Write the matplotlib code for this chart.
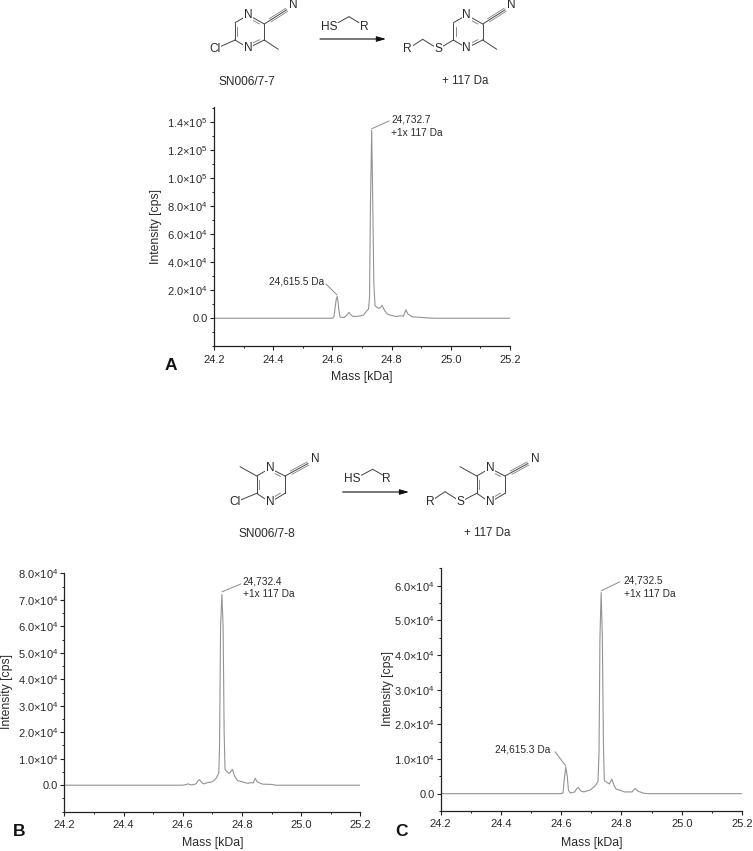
import numpy as np
import matplotlib
matplotlib.use("Agg")
import matplotlib.pyplot as plt
from matplotlib.ticker import MultipleLocator

plt.rcParams['font.family'] = ['Liberation Sans', 'DejaVu Sans']
plt.rcParams['mathtext.fontset'] = 'custom'
plt.rcParams['mathtext.rm'] = 'Liberation Sans'
plt.rcParams['mathtext.default'] = 'regular'

W, H = 753, 851
INK = '#2a2a2a'
TRACE = '#939393'
BOND = '#444444'

# ---------- data (mass in kDa, intensity in units of 1e4 cps) ----------
mass_a = [24.2, 24.55, 24.6, 24.605, 24.61, 24.613, 24.616, 24.619, 24.622, 24.626, 24.64, 24.65, 24.656, 24.662,
          24.67, 24.69, 24.705, 24.715, 24.722, 24.7255, 24.7285, 24.7327, 24.7365, 24.74, 24.744, 24.755, 24.762,
          24.768, 24.775, 24.785, 24.80, 24.815, 24.83, 24.84, 24.848, 24.855, 24.87, 24.90, 24.92, 24.95, 25.2]
int_a = [0, 0, 0, 0.1, 0.9, 1.35, 1.55, 1.2, 0.55, 0.08, 0.05, 0.25, 0.42, 0.25,
         0.12, 0.15, 0.22, 0.5, 0.65, 1.5, 8, 13.4, 8, 2.5, 0.9, 0.7, 0.75,
         0.92, 0.6, 0.3, 0.2, 0.12, 0.18, 0.15, 0.6, 0.3, 0.1, 0.06, 0.02, 0, 0]

mass_b = [24.2, 24.6, 24.612, 24.617, 24.63, 24.645, 24.652, 24.657, 24.663, 24.67, 24.685, 24.70, 24.712, 24.722,
          24.7245, 24.728, 24.7324, 24.7365, 24.74, 24.743, 24.75, 24.758, 24.768, 24.775, 24.785, 24.80, 24.82,
          24.832, 24.838, 24.845, 24.852, 24.87, 24.90, 24.915, 25.2]
int_b = [0, 0, 0.03, 0.05, 0.01, 0.05, 0.17, 0.21, 0.12, 0.05, 0.1, 0.13, 0.25, 0.45,
         1.5, 6, 7.2, 6, 2, 0.6, 0.5, 0.45, 0.6, 0.35, 0.18, 0.13, 0.07,
         0.1, 0.08, 0.26, 0.12, 0.04, 0.03, 0, 0]

mass_c = [24.2, 24.6, 24.606, 24.61, 24.615, 24.62, 24.624, 24.63, 24.645, 24.652, 24.657, 24.664, 24.675, 24.695,
          24.712, 24.722, 24.7255, 24.7285, 24.7325, 24.7365, 24.74, 24.743, 24.752, 24.76, 24.768, 24.775, 24.782,
          24.795, 24.81, 24.835, 24.845, 24.855, 24.875, 24.89, 25.2]
int_c = [0, 0, 0.02, 0.4, 0.77, 0.5, 0.1, 0.02, 0.05, 0.15, 0.18, 0.08, 0.05, 0.1,
         0.22, 0.35, 1.2, 4.5, 5.8, 4.5, 1.5, 0.38, 0.32, 0.28, 0.42, 0.25, 0.13,
         0.1, 0.05, 0.05, 0.15, 0.07, 0.01, 0, 0]

x_ticks = [24.2, 24.4, 24.6, 24.8, 25.0, 25.2]
x_ticklabels = ['24.2', '24.4', '24.6', '24.8', '25.0', '25.2']

yticks_a = [0, 2, 4, 6, 8, 10, 12, 14]
ylabels_a = ['0.0', '2.0×10$^{4}$', '4.0×10$^{4}$', '6.0×10$^{4}$', '8.0×10$^{4}$',
             '1.0×10$^{5}$', '1.2×10$^{5}$', '1.4×10$^{5}$']
yticks_b = [0, 1, 2, 3, 4, 5, 6, 7, 8]
ylabels_b = ['0.0'] + [f'{v}.0×10$^{{4}}$' for v in yticks_b[1:]]
yticks_c = [0, 1, 2, 3, 4, 5, 6]
ylabels_c = ['0.0'] + [f'{v}.0×10$^{{4}}$' for v in yticks_c[1:]]

fig = plt.figure(figsize=(W / 100, H / 100), dpi=100, facecolor='white')

# overlay in pixel coordinates for schemes, callouts and panel letters
ov = fig.add_axes([0, 0, 1, 1], zorder=5)
ov.set_xlim(0, W)
ov.set_ylim(H, 0)
ov.axis('off')
ov.patch.set_alpha(0)


def panel(left, right, top, bottom, mass, inten, ylim, yticks, ylabels, yminor,
          xlabel_pos, ylabel_pos):
    ax = fig.add_axes([left / W, 1 - bottom / H, (right - left) / W, (bottom - top) / H])
    ax.plot(mass, np.array(inten) * 1e4, color=TRACE, lw=0.8)
    ax.set_xlim(24.2, 25.2)
    ax.set_ylim(ylim[0] * 1e4, ylim[1] * 1e4)
    ax.set_xticks(x_ticks)
    ax.set_xticklabels(x_ticklabels)
    ax.xaxis.set_minor_locator(MultipleLocator(0.1))
    ax.set_yticks(np.array(yticks) * 1e4)
    ax.set_yticklabels(ylabels)
    ax.yaxis.set_minor_locator(MultipleLocator(yminor * 1e4))
    for s in ('top', 'right'):
        ax.spines[s].set_visible(False)
    for s in ('left', 'bottom'):
        ax.spines[s].set_linewidth(0.9)
        ax.spines[s].set_color('#222222')
    ax.tick_params(axis='both', which='major', length=3.0, width=0.8, color='#222222',
                   labelsize=8.0, labelcolor=INK)
    ax.tick_params(axis='x', which='major', pad=3.0)
    ax.tick_params(axis='y', which='major', pad=1.5)
    ax.tick_params(axis='both', which='minor', length=1.6, width=0.7, color='#222222')
    ax.set_xlabel('Mass [kDa]', fontsize=8.8, color=INK, va='center', ha='center')
    ax.set_ylabel('Intensity [cps]', fontsize=8.8, color=INK, va='center', ha='center')
    ax.xaxis.set_label_coords(*xlabel_pos, transform=ov.transData)
    ax.yaxis.set_label_coords(*ylabel_pos, transform=ov.transData)
    return ax


ax_a = panel(214, 510, 107, 346.3, mass_a, int_a, (-2, 15.05), yticks_a, ylabels_a, 1, (362, 377), (156, 226.7))
ax_b = panel(64.3, 360.3, 573.3, 811.7, mass_b, int_b, (-1, 8), yticks_b, ylabels_b, 0.5, (212.5, 843), (6.7, 691.7))
ax_c = panel(440.7, 742, 568.3, 811, mass_c, int_c, (-0.5, 6.5), yticks_c, ylabels_c, 0.5, (591.3, 843), (388.3, 689))


def callout(ax, peak, end, lines, tx, ty, ha='left', step=12.5):
    ov.annotate('', xy=(peak[0], peak[1] * 1e4), xycoords=ax.transData, xytext=end, textcoords=ov.transData,
                arrowprops=dict(arrowstyle='-', color='#8a8a8a', lw=0.7, shrinkA=0, shrinkB=0))
    for i, line in enumerate(lines):
        ov.text(tx, ty + i * step, line, fontsize=7.3, color=INK, ha=ha, va='center')


callout(ax_a, (24.7327, 13.5), (389, 121), ['24,732.7', '+1x 117 Da'], 391, 120)
callout(ax_a, (24.616, 1.65), (326, 284), ['24,615.5 Da'], 324.3, 282, ha='right')
callout(ax_b, (24.7324, 7.3), (240.7, 584), ['24,732.4', '+1x 117 Da'], 242.7, 581.7)
callout(ax_c, (24.7325, 5.85), (620, 581.7), ['24,732.5', '+1x 117 Da'], 623.7, 580.7, step=13)
callout(ax_c, (24.6153, 0.8), (555, 751.7), ['24,615.3 Da'], 550.3, 749.7, ha='right')

for letter, x, y in [('A', 170.5, 366), ('B', 19, 832), ('C', 402, 832)]:
    ov.text(x, y, letter, fontsize=12.5, fontweight='bold', color='#111111', ha='center', va='center')


# ---------- reaction schemes ----------
def bond(p, q, lw=0.7):
    ov.plot([p[0], q[0]], [p[1], q[1]], color=BOND, lw=lw, solid_capstyle='round', zorder=2)


def inner(p, q, c, frac=0.18, off=0.17):
    p, q, c = map(np.array, (p, q, c))
    a = p + (q - p) * frac
    b = q - (q - p) * frac
    a = a + (c - a) * off
    b = b + (c - b) * off
    ov.plot([a[0], b[0]], [a[1], b[1]], color='#8a8a8a', lw=0.7, zorder=2)


def atom(x, y, s):
    ov.text(x, y, s, fontsize=8.6, color=INK, ha='center', va='center', zorder=4,
            bbox=dict(facecolor='white', edgecolor='none', pad=0.6))


def nitrile(start, end, n_pos):
    s, e = np.array(start), np.array(end)
    bond(s, e)
    d = (e - s) / np.hypot(*(e - s))
    nrm = np.array([-d[1], d[0]])
    for sign in (-1, 1):
        ov.plot(*zip(s + d * 7 + nrm * 1.8 * sign, e + nrm * 1.8 * sign), color='#777777', lw=0.55, zorder=2)
    ov.text(*n_pos, 'N', fontsize=8.6, color=INK, ha='center', va='center', zorder=4)


def ring(v, doubles):
    c = np.mean(v, axis=0)
    for i in range(6):
        bond(v[i], v[(i + 1) % 6])
    for i in doubles:
        inner(v[i], v[(i + 1) % 6], c)


def arrow(x0, x1, y):
    ov.annotate('', xy=(x1, y), xytext=(x0, y), xycoords='data', textcoords='data',
                arrowprops=dict(arrowstyle='-|>,head_length=0.55,head_width=0.16', color='#111111', lw=0.8,
                                shrinkA=0, shrinkB=0))


def thiol(hs, ch2, r_end, r_pos):
    ov.text(*hs, 'HS', fontsize=8.6, color=INK, ha='center', va='center', zorder=4)
    bond((hs[0] + 9, hs[1] - 4), ch2)
    bond(ch2, r_end)
    ov.text(*r_pos, 'R', fontsize=8.6, color=INK, ha='center', va='center', zorder=4)


# scheme 1 (SN006/7-7)
for dx, product in ((0, False), (218.4, True)):
    v = [(248.3 + dx, 15), (264.3 + dx, 24), (264.3 + dx, 40), (248.3 + dx, 48), (235 + dx, 40), (235 + dx, 22.7)]
    ring(v, [0, 2, 4])
    atom(v[0][0], v[0][1], 'N')
    atom(v[3][0], v[3][1], 'N')
    nitrile(v[1], (286.7 + dx, 9.8), (293.3 + dx, 5.5))
    bond(v[2], (278.3 + dx, 49.3))
    if product:
        bond(v[4], (438.3, 49))
        bond((438.3, 49), (422.7, 39.3))
        bond((422.7, 39.3), (407.7, 49))
        atom(438.3, 49, 'S')
        atom(407.7, 49, 'R')
    else:
        bond(v[4], (215, 49))
        atom(215, 49, 'Cl')
arrow(320, 386, 39)
thiol((329, 26.7), (349, 16.7), (359, 22.7), (364, 26.7))
ov.text(246.7, 81.7, 'SN006/7-7', fontsize=8.6, color=INK, ha='center', va='center')
ov.text(465, 81.3, '+ 117 Da', fontsize=8.3, color=INK, ha='center', va='center')

# scheme 2 (SN006/7-8)
for dx, product in ((0, False), (220, True)):
    v = [(270 + dx, 468.3), (285 + dx, 476), (285 + dx, 493.3), (270 + dx, 502.3), (256.7 + dx, 493.3), (256.7 + dx, 476)]
    ring(v, [0, 2, 4])
    atom(v[0][0], v[0][1], 'N')
    atom(v[3][0], v[3][1], 'N')
    nitrile(v[1], (308 + dx, 463.5), (315 + dx, 459))
    bond(v[5], (240 + dx, 466.7))
    if product:
        bond(v[4], (460.7, 501.7))
        bond((460.7, 501.7), (445, 491.7))
        bond((445, 491.7), (430, 501.7))
        atom(460.7, 501.7, 'S')
        atom(430, 501.7, 'R')
    else:
        bond(v[4], (235, 502.3))
        atom(235, 502.3, 'Cl')
arrow(342.7, 409, 492)
thiol((352.3, 479.3), (372.7, 469.3), (382.7, 475), (386.7, 479.3))
ov.text(267.3, 534, 'SN006/7-8', fontsize=8.6, color=INK, ha='center', va='center')
ov.text(487.3, 533.3, '+ 117 Da', fontsize=8.3, color=INK, ha='center', va='center')

fig.savefig('out.png', dpi=100, facecolor='white')
